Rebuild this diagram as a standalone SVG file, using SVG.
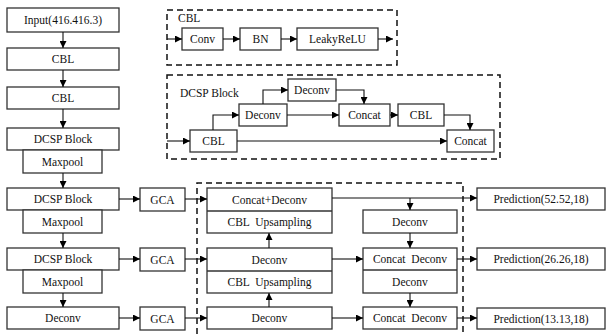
<svg xmlns="http://www.w3.org/2000/svg" width="607" height="334" viewBox="0 0 607 334">
<defs>
<marker id="ah" viewBox="0 0 8 8" refX="8" refY="4" markerWidth="7" markerHeight="7" markerUnits="userSpaceOnUse" orient="auto">
<path d="M0,0 L8,4 L0,8 Z" fill="#000"/>
</marker>
<style>
.b{fill:#fff;stroke:#333;stroke-width:1.3}
.t{font-family:'Liberation Serif','DejaVu Serif',serif;font-size:11.5px;fill:#111;text-anchor:middle;dominant-baseline:central}
.tl{font-family:'Liberation Serif','DejaVu Serif',serif;font-size:11.5px;fill:#111}
.c{fill:none;stroke:#111;stroke-width:1.1;marker-end:url(#ah)}
.l{fill:none;stroke:#111;stroke-width:1.1}
.d{fill:none;stroke:#111;stroke-width:1.5;stroke-dasharray:6 4}
</style>
</defs>
<rect width="607" height="334" fill="#fff"/>

<!-- dashed frames -->
<g id="frames">
<rect class="d" x="167" y="10" width="230" height="55"/>
<rect class="d" x="167" y="75" width="333" height="84"/>
<path class="d" d="M197,334 V183 H463 V334"/>
<text class="tl" x="178" y="22">CBL</text>
<text class="tl" x="180" y="97">DCSP Block</text>
</g>

<!-- CBL detail -->
<g id="cbl-conv"><rect class="b" x="182" y="28" width="41" height="22"/><text class="t" x="202.5" y="39">Conv</text></g>
<g id="cbl-bn"><rect class="b" x="240" y="28" width="41" height="22"/><text class="t" x="260.5" y="39">BN</text></g>
<g id="cbl-leaky"><rect class="b" x="297" y="28" width="81" height="22"/><text class="t" x="337.5" y="39">LeakyReLU</text></g>

<!-- DCSP detail -->
<g id="d-cbl"><rect class="b" x="190" y="130" width="47" height="22"/><text class="t" x="213.5" y="141">CBL</text></g>
<g id="d-deconv1"><rect class="b" x="239" y="104" width="48" height="22"/><text class="t" x="263" y="115">Deconv</text></g>
<g id="d-deconv2"><rect class="b" x="288" y="79" width="48" height="22"/><text class="t" x="312" y="90">Deconv</text></g>
<g id="d-concat1"><rect class="b" x="339" y="104" width="51" height="22"/><text class="t" x="364.5" y="115">Concat</text></g>
<g id="d-cbl2"><rect class="b" x="398" y="104" width="46" height="22"/><text class="t" x="421" y="115">CBL</text></g>
<g id="d-concat2"><rect class="b" x="447" y="130" width="47" height="22"/><text class="t" x="470.5" y="141">Concat</text></g>

<!-- left column -->
<g id="input"><rect class="b" x="7" y="8" width="112" height="24"/><text class="t" x="63" y="20">Input(416.416.3)</text></g>
<g id="cbl1"><rect class="b" x="7" y="48" width="112" height="22"/><text class="t" x="63" y="59">CBL</text></g>
<g id="cbl2"><rect class="b" x="7" y="87" width="112" height="22"/><text class="t" x="63" y="98">CBL</text></g>
<g id="dcsp1"><rect class="b" x="7" y="128" width="112" height="22"/><text class="t" x="63" y="139">DCSP Block</text></g>
<g id="maxpool1"><rect class="b" x="23" y="150" width="79" height="23"/><text class="t" x="62.5" y="161.5">Maxpool</text></g>
<g id="dcsp2"><rect class="b" x="7" y="188" width="112" height="22"/><text class="t" x="63" y="199">DCSP Block</text></g>
<g id="maxpool2"><rect class="b" x="23" y="210" width="79" height="23"/><text class="t" x="62.5" y="221.5">Maxpool</text></g>
<g id="dcsp3"><rect class="b" x="7" y="248" width="112" height="22"/><text class="t" x="63" y="259">DCSP Block</text></g>
<g id="maxpool3"><rect class="b" x="23" y="270" width="79" height="23"/><text class="t" x="62.5" y="281.5">Maxpool</text></g>
<g id="deconv-l"><rect class="b" x="7" y="307" width="112" height="22"/><text class="t" x="63" y="318">Deconv</text></g>

<!-- GCA -->
<g id="gca1"><rect class="b" x="140" y="188" width="45" height="23"/><text class="t" x="162.5" y="199.5">GCA</text></g>
<g id="gca2"><rect class="b" x="140" y="248" width="45" height="23"/><text class="t" x="162.5" y="259.5">GCA</text></g>
<g id="gca3"><rect class="b" x="140" y="307" width="45" height="23"/><text class="t" x="162.5" y="318.5">GCA</text></g>

<!-- middle column -->
<g id="mid1"><rect class="b" x="207" y="188" width="125" height="45"/><line class="b" x1="207" y1="211" x2="332" y2="211"/><text class="t" x="269.5" y="199.5">Concat+Deconv</text><text class="t" x="269.5" y="222" style="word-spacing:3px">CBL Upsampling</text></g>
<g id="mid2"><rect class="b" x="207" y="248" width="125" height="45"/><line class="b" x1="207" y1="271" x2="332" y2="271"/><text class="t" x="269.5" y="259.5">Deconv</text><text class="t" x="269.5" y="282" style="word-spacing:3px">CBL Upsampling</text></g>
<g id="mid3"><rect class="b" x="207" y="307" width="125" height="22"/><text class="t" x="269.5" y="318">Deconv</text></g>

<!-- right column -->
<g id="r-deconv"><rect class="b" x="363" y="210" width="94" height="23"/><text class="t" x="410" y="221.5">Deconv</text></g>
<g id="r-cd1"><rect class="b" x="363" y="248" width="94" height="45"/><line class="b" x1="363" y1="270" x2="457" y2="270"/><text class="t" x="410" y="259" style="word-spacing:3px">Concat Deconv</text><text class="t" x="410" y="281.5">Deconv</text></g>
<g id="r-cd2"><rect class="b" x="363" y="307" width="94" height="22"/><text class="t" x="410" y="318" style="word-spacing:3px">Concat Deconv</text></g>

<!-- predictions -->
<g id="pred1"><rect class="b" x="477" y="188" width="128" height="22"/><text class="t" x="541" y="199">Prediction(52.52,18)</text></g>
<g id="pred2"><rect class="b" x="477" y="248" width="128" height="22"/><text class="t" x="541" y="259">Prediction(26.26,18)</text></g>
<g id="pred3"><rect class="b" x="477" y="308" width="128" height="21"/><text class="t" x="541" y="318.5">Prediction(13.13,18)</text></g>

<g id="connectors">
<!-- CBL detail -->
<path class="c" d="M167,39 H182"/>
<path class="c" d="M223,39 H240"/>
<path class="c" d="M281,39 H297"/>
<path class="c" d="M378,39 H393"/>
<!-- DCSP detail -->
<path class="c" d="M167,141 H190"/>
<path class="c" d="M213,130 V115 H239"/>
<path class="c" d="M263,104 V90 H288"/>
<path class="c" d="M336,90 H364 V104"/>
<path class="c" d="M287,115 H339"/>
<path class="c" d="M390,115 H398"/>
<path class="c" d="M444,115 H470 V130"/>
<path class="c" d="M237,141 H447"/>
<!-- left column -->
<path class="c" d="M63,32 V48"/>
<path class="c" d="M63,70 V87"/>
<path class="c" d="M63,109 V128"/>
<path class="c" d="M63,173 V188"/>
<path class="c" d="M63,233 V248"/>
<path class="c" d="M63,293 V307"/>
<!-- to GCA -->
<path class="c" d="M119,199 H140"/>
<path class="c" d="M119,259 H140"/>
<path class="c" d="M119,318 H140"/>
<!-- GCA to middle -->
<path class="c" d="M185,199 H207"/>
<path class="c" d="M185,259 H207"/>
<path class="c" d="M185,318 H207"/>
<!-- middle up -->
<path class="c" d="M269,248 V233"/>
<path class="c" d="M269,307 V293"/>
<!-- middle to right -->
<path class="c" d="M332,198 H477"/>
<path class="c" d="M410,198 V210"/>
<path class="c" d="M332,259 H363"/>
<path class="c" d="M332,318 H363"/>
<path class="c" d="M410,233 V248"/>
<path class="c" d="M410,293 V307"/>
<!-- to predictions -->
<path class="c" d="M457,259 H477"/>
<path class="c" d="M457,318 H477"/>
</g>
</svg>
